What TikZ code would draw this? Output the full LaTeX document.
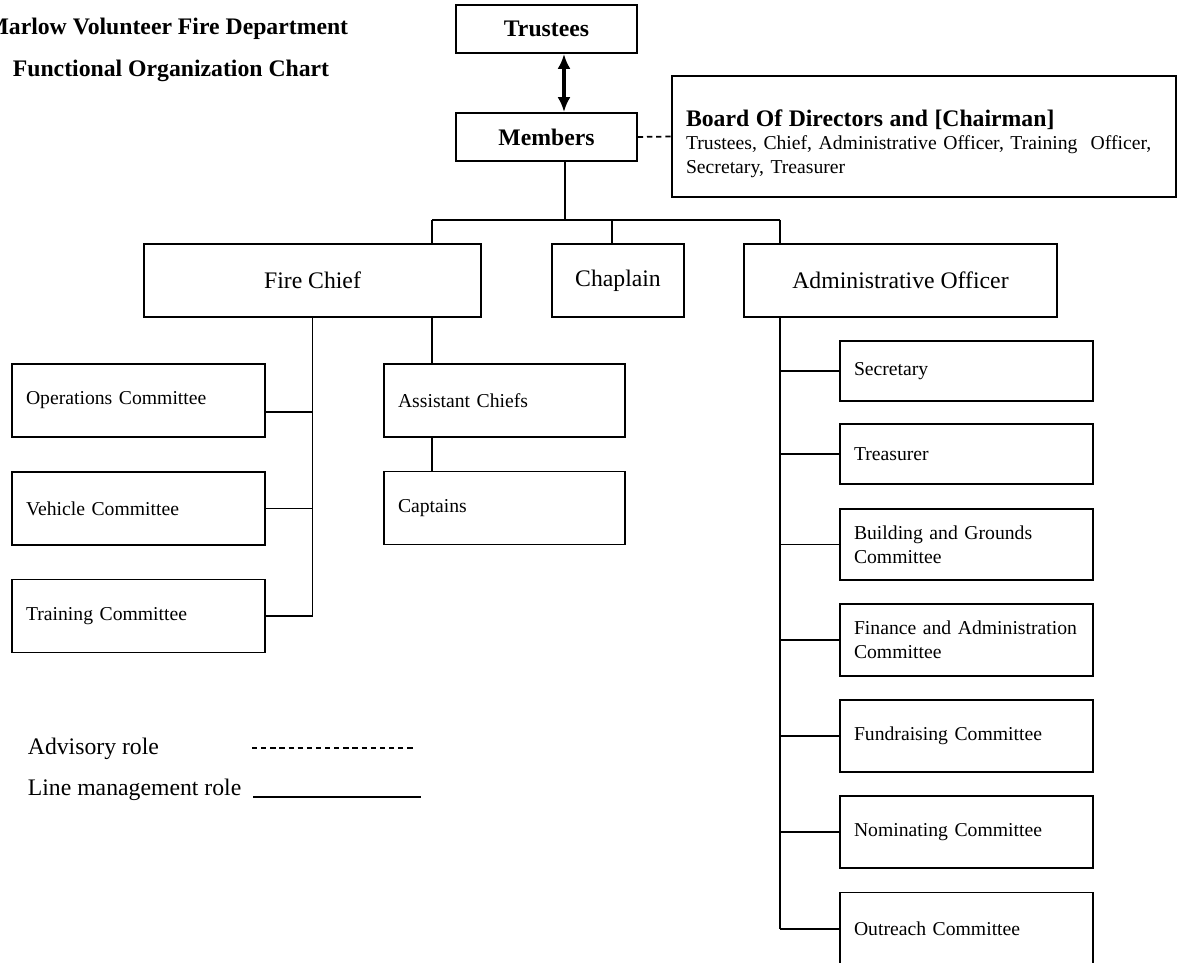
\documentclass[tikz,border=0pt]{standalone}
\usepackage{fontspec}
\setmainfont{Liberation Serif}
\usetikzlibrary{arrows.meta}

\begin{document}
\begin{tikzpicture}[x=0.02cm, y=-0.02cm, line width=1pt,
    big/.style = {draw, rectangle, inner sep=0pt, minimum height=1.46cm, font=\fontsize{13.5}{16}\selectfont},
    small/.style = {draw, rectangle, inner xsep=0.28cm, inner ysep=0pt, align=left, text width=4.5cm, minimum height=1.46cm, font=\fontsize{11.2}{13.6}\selectfont},
    label/.style = {inner sep=0pt, font=\fontsize{13.5}{16}\selectfont},
    advisory/.style = {dash pattern=on 3pt off 2.2pt}]
    \useasboundingbox (0,0) rectangle (1178,963);

    % title
    \node[label, font=\fontsize{13.5}{16}\selectfont\bfseries, anchor=base east] (t1) at (349,35) {Marlow Volunteer Fire Department};
    \node[label, font=\fontsize{13.5}{16}\selectfont\bfseries, anchor=base west] (t2) at (12,77) {Functional Organization Chart};

    % top of the chart
    \node[big, minimum width=3.62cm, minimum height=0.96cm] (1) at (546.5,29) {\textbf{Trustees}};
    \node[big, minimum width=3.62cm, minimum height=0.96cm] (2) at (546.5,137) {\textbf{Members}};
    \node[small, text width=9.52cm, minimum height=2.42cm] (3) at (924,136.5) {{\fontsize{13.5}{13.6}\selectfont\bfseries\rule{0pt}{17.7pt}Board Of Directors and [Chairman]}\\Trustees, Chief, Administrative Officer, Training~ Officer,\\Secretary, Treasurer};

    \node[big, minimum width=6.74cm] (4) at (312.5,280.5) {Fire Chief};
    \node[big, minimum width=2.64cm] (5) at (618,280.5) {Chaplain};
    \node[big, minimum width=6.26cm] (6) at (900.5,280.5) {Administrative Officer};

    % fire chief side
    \node[small] (7) at (138.5,400.5) {Operations Committee};
    \node[small] (8) at (138.5,508.5) {Vehicle Committee};
    \node[small] (9) at (138.5,616) {Training Committee};
    \node[small, text width=4.26cm] (10) at (504.5,400.5) {Assistant Chiefs};
    \node[small, text width=4.26cm] (11) at (504.5,508) {Captains};

    % administrative side
    \node[small, minimum height=1.2cm] (12) at (966.5,371) {Secretary};
    \node[small, minimum height=1.2cm] (13) at (966.5,454) {Treasurer};
    \node[small, minimum height=1.43cm] (14) at (966.5,544.5) {Building and Grounds\\Committee};
    \node[small, minimum height=1.43cm] (15) at (966.5,640) {Finance and Administration\\Committee};
    \node[small, minimum height=1.43cm] (16) at (966.5,736) {Fundraising Committee};
    \node[small, minimum height=1.43cm] (17) at (966.5,832) {Nominating Committee};
    \node[small, minimum height=1.46cm] (18) at (966.5,929) {Outreach Committee};

    \coordinate (j) at (565,220);
    \coordinate (b1) at (432,220);
    \coordinate (b2) at (612,220);
    \coordinate (b3) at (780,220);

    \draw[{Latex[length=0.3cm,width=0.26cm]}-{Latex[length=0.3cm,width=0.26cm]}, line width=2pt] ([xshift=0.35cm]1.south) -- ([xshift=0.35cm]2.north);
    \draw[advisory] (2.east) -- (3.west);
    \draw ([xshift=0.37cm]2.south) -- (j);
    \draw (b1) -- (b3);
    \draw (b1) -- (b1 |- 4.north);
    \draw (b2) -- (b2 |- 5.north);
    \draw (b3) -- (b3 |- 6.north);

    \draw (4.south) -- (4.south |- 9.east);
    \draw ([yshift=-0.23cm]7.east) -- ([yshift=-0.23cm]7.east -| 4.south);
    \draw (8.east) -- (8.east -| 4.south);
    \draw (9.east) -- (9.east -| 4.south);
    \draw (b1 |- 4.south) -- (b1 |- 10.north);
    \draw (b1 |- 10.south) -- (b1 |- 11.north);

    \draw (b3 |- 6.south) -- (b3 |- 18.west);
    \foreach \n in {12,...,18}
        \draw (\n.west) -- (\n.west -| b3);

    % legend
    \node[label, anchor=west] (l1) at (27,749) {Advisory role};
    \node[label, anchor=west] (l2) at (27,790) {Line management role};
    \coordinate (d1) at (252,748);
    \coordinate (d2) at (416,748);
    \coordinate (m1) at (253,797);
    \coordinate (m2) at (421,797);
    \draw[advisory] (d1) -- (d2);
    \draw (m1) -- (m2);
\end{tikzpicture}
\end{document}
